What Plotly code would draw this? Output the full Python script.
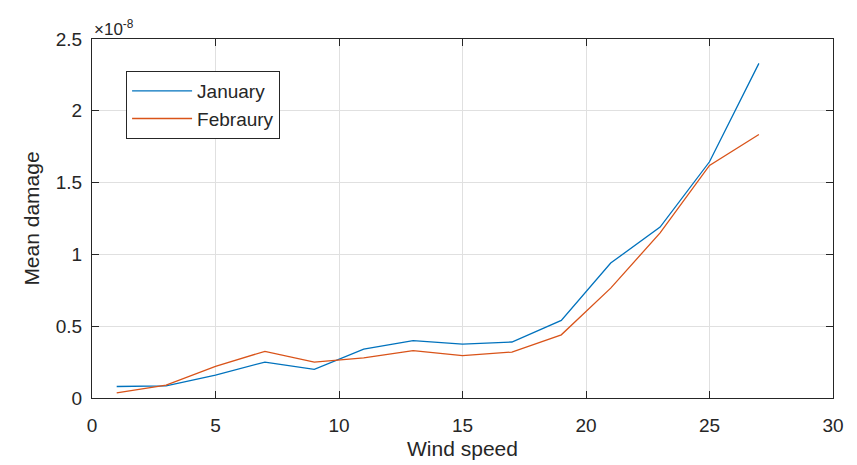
import numpy as np
import plotly.graph_objects as go

# Wind speed bins
wind_speed = [1, 3, 5, 7, 9, 11, 13, 15, 17, 19, 21, 23, 25, 27]

# Mean damage per bin, in units of 1e-8
january_e8 = [0.08, 0.085, 0.16, 0.25, 0.20, 0.34, 0.40, 0.375, 0.39, 0.54, 0.94, 1.19, 1.645, 2.33]
february_e8 = [0.035, 0.09, 0.22, 0.325, 0.25, 0.28, 0.33, 0.295, 0.32, 0.44, 0.765, 1.15, 1.62, 1.835]

scale = 1e-8
january = np.array(january_e8) * scale
february = np.array(february_e8) * scale

y_ticks = [0, 0.5, 1, 1.5, 2, 2.5]
y_tick_text = ["0", "0.5", "1", "1.5", "2", "2.5"]
x_ticks = [0, 5, 10, 15, 20, 25, 30]

FONT = "Liberation Sans, Arial, sans-serif"
INK = "#262626"

fig = go.Figure()
fig.add_trace(go.Scatter(x=wind_speed, y=january, mode="lines", name="January",
                         line=dict(color="#0072BD", width=1.3)))
fig.add_trace(go.Scatter(x=wind_speed, y=february, mode="lines", name="Febraury",
                         line=dict(color="#D95319", width=1.3)))

axis_common = dict(
    showline=True, linecolor=INK, linewidth=1.2, mirror="ticks",
    ticks="inside", ticklen=7, tickcolor=INK,
    showgrid=True, gridcolor="#e0e0e0", gridwidth=1,
    zeroline=False, automargin=False,
    tickfont=dict(family=FONT, size=19, color=INK),
)

fig.update_layout(
    width=857, height=465,
    margin=dict(l=92, r=24, t=39, b=67),
    paper_bgcolor="white", plot_bgcolor="white",
    font=dict(family=FONT, color=INK),
    xaxis=dict(range=[0, 30], tickvals=x_ticks, ticklabelstandoff=10,
               title=dict(text="Wind speed", font=dict(size=21), standoff=6),
               **axis_common),
    yaxis=dict(range=[0, 2.5 * scale], tickvals=[v * scale for v in y_ticks],
               ticktext=y_tick_text, ticklabelstandoff=5,
               title=dict(text="Mean damage", font=dict(size=21), standoff=10),
               **axis_common),
    legend=dict(x=0.046, y=0.911, xanchor="left", yanchor="top",
                bgcolor="white", bordercolor=INK, borderwidth=1,
                font=dict(family=FONT, size=19, color=INK),
                itemwidth=60, tracegroupgap=0),
    showlegend=True,
    annotations=[dict(text="×10<sup>-8</sup>", xref="paper", yref="paper",
                      x=0, y=1.0, xanchor="left", yanchor="bottom", yshift=-2,
                      showarrow=False, font=dict(family=FONT, size=17, color=INK))],
)

fig.write_html("out.html")
